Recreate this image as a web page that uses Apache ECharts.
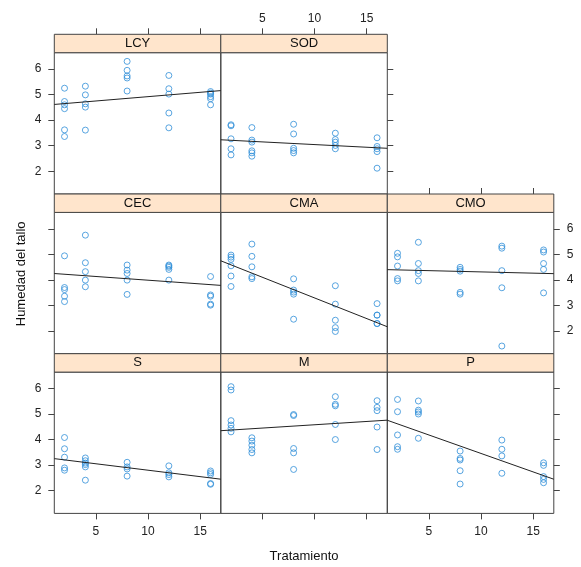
<!DOCTYPE html>
<html><head><meta charset="utf-8">
<script src="https://cdn.jsdelivr.net/npm/echarts@6/dist/echarts.min.js"></script>
<style>html,body{margin:0;padding:0;background:#fff}#c{width:581px;height:567px}</style>
</head><body><div id="c"></div>
<script>
// ---- data ----
const tratamientos = [2, 4, 8, 12, 16];
const panelNames = ['LCY', 'SOD', 'CEC', 'CMA', 'CMO', 'S', 'M', 'P'];
const LCY = [[5.25, 4.73, 4.60, 4.45, 3.62, 3.36], [5.33, 4.99, 4.64, 4.51, 3.61], [6.30, 5.95, 5.73, 5.65, 5.14], [5.75, 5.23, 5.02, 4.28, 3.70], [5.12, 5.06, 5.02, 4.92, 4.84, 4.60]];
const SOD = [[3.82, 3.78, 3.27, 2.88, 2.64], [3.71, 3.22, 3.14, 2.80, 2.72, 2.59], [3.84, 3.46, 2.90, 2.81, 2.72], [3.49, 3.24, 3.14, 3.01, 2.88], [3.31, 2.97, 2.88, 2.77, 2.12]];
const CEC = [[4.94, 3.70, 3.62, 3.36, 3.15], [5.75, 4.67, 4.32, 3.99, 3.73], [4.58, 4.38, 4.25, 3.99, 3.43], [4.58, 4.54, 4.49, 4.41, 3.99], [4.13, 3.41, 3.36, 3.05, 3.01]];
const CMA = [[4.97, 4.89, 4.80, 4.55, 4.15, 3.74], [5.40, 4.92, 4.51, 4.12, 4.05], [4.04, 3.60, 3.52, 3.44, 2.46], [3.77, 3.05, 2.42, 2.13, 1.98], [3.07, 2.62, 2.62, 2.29, 2.29]];
const CMO = [[5.04, 4.90, 4.54, 4.05, 3.96], [5.47, 4.64, 4.36, 4.25, 3.96], [4.49, 4.41, 4.34, 3.51, 3.44], [5.32, 5.24, 4.36, 3.69, 1.41], [5.17, 5.09, 4.64, 4.41, 3.49]];
const S = [[4.08, 3.64, 3.31, 2.89, 2.80], [3.28, 3.17, 3.08, 3.02, 2.93, 2.41], [3.11, 2.93, 2.85, 2.57], [2.97, 2.70, 2.63, 2.54], [2.77, 2.70, 2.63, 2.28, 2.25]];
const M = [[6.07, 5.94, 4.74, 4.57, 4.44, 4.30], [4.07, 3.94, 3.78, 3.61, 3.48], [4.98, 4.94, 3.65, 3.48, 2.83], [5.68, 5.38, 5.32, 4.59, 4.00], [5.52, 5.26, 5.13, 4.49, 3.61]];
const P = [[5.57, 5.09, 4.18, 3.72, 3.62], [5.51, 5.15, 5.08, 5.00, 4.05], [3.55, 3.26, 3.20, 2.78, 2.26], [3.98, 3.62, 3.36, 2.68], [3.09, 2.99, 2.55, 2.44, 2.31]];
const panelValues = [LCY, SOD, CEC, CMA, CMO, S, M, P];
const xTicks = [5, 10, 15];
const yTicks = [2, 3, 4, 5, 6];
const xRange = [1.02, 16.98];
const yRange = [1.11, 6.64];
const xTitle = 'Tratamiento';
const yTitle = 'Humedad del tallo';

// ---- layout ----
const colLeft = [54.3, 220.8, 387.3];
const panelW = 166.5;
const panelTop = [52.7, 212.4, 372.1];
const panelH = 141.3;
const stripH = 18.4;
// row, col, x axis position, x labels, y axis position, y labels
const layout = [
  [0, 0, 'top', false, 'left', true],
  [0, 1, 'top', true, 'right', false],
  [1, 0, null, false, 'left', false],
  [1, 1, null, false, null, false],
  [1, 2, 'top', false, 'right', true],
  [2, 0, 'bottom', true, 'left', true],
  [2, 1, 'bottom', false, null, false],
  [2, 2, 'bottom', true, 'right', false]
];
const axisCol = '#444';
const ptCol = '#2f8fd8';
const font = 'Liberation Sans, Arial, sans-serif';

const grids = [], xAxes = [], yAxes = [], series = [], graphics = [];
panelNames.forEach((name, i) => {
  const [r, c, xPos, xLab, yPos, yLab] = layout[i];
  const left = colLeft[c], top = panelTop[r];
  grids.push({left: left, top: top, width: panelW, height: panelH, show: true,
    borderColor: axisCol, borderWidth: 1, backgroundColor: 'rgba(0,0,0,0)', containLabel: false});
  xAxes.push({gridIndex: i, type: 'value', min: xRange[0], max: xRange[1],
    position: xPos || 'bottom', offset: xPos === 'top' ? stripH : 0,
    axisLine: {show: false}, splitLine: {show: false},
    axisTick: {show: !!xPos, customValues: xTicks, length: 6, inside: false, lineStyle: {color: axisCol}},
    axisLabel: {show: !!xLab, customValues: xTicks, margin: xPos === 'top' ? 10 : 12, color: '#222', fontSize: 12, fontFamily: font}});
  yAxes.push({gridIndex: i, type: 'value', min: yRange[0], max: yRange[1],
    position: yPos || 'left',
    axisLine: {show: false}, splitLine: {show: false},
    axisTick: {show: !!yPos, customValues: yTicks, length: 6, inside: false, lineStyle: {color: axisCol}},
    axisLabel: {show: !!yLab, customValues: yTicks, margin: 13, color: '#222', fontSize: 12, fontFamily: font}});
  const pts = [];
  panelValues[i].forEach((grp, k) => grp.forEach(v => pts.push([tratamientos[k], v])));
  series.push({type: 'scatter', xAxisIndex: i, yAxisIndex: i, data: pts, symbol: 'circle', symbolSize: 6,
    itemStyle: {color: 'rgba(0,0,0,0)', borderColor: ptCol, borderWidth: 1}, silent: true});
  // least-squares line (panel.lmline)
  const n = pts.length;
  const mx = pts.reduce((s, p) => s + p[0], 0) / n;
  const my = pts.reduce((s, p) => s + p[1], 0) / n;
  let sxy = 0, sxx = 0;
  pts.forEach(p => { sxy += (p[0] - mx) * (p[1] - my); sxx += (p[0] - mx) * (p[0] - mx); });
  const b = sxy / sxx, a = my - b * mx;
  series.push({type: 'line', xAxisIndex: i, yAxisIndex: i, showSymbol: false, silent: true, clip: true,
    data: [[xRange[0], a + b * xRange[0]], [xRange[1], a + b * xRange[1]]],
    lineStyle: {color: '#222', width: 1}});
  graphics.push({type: 'rect', shape: {x: left, y: top - stripH, width: panelW, height: stripH},
    style: {fill: '#ffe5cc', stroke: axisCol, lineWidth: 1}, z: 10});
  graphics.push({type: 'text', x: left + panelW / 2, y: top - stripH / 2,
    style: {text: name, fill: '#111', font: '13px ' + font, textAlign: 'center', textVerticalAlign: 'middle'}, z: 11});
});
graphics.push({type: 'text', x: (colLeft[0] + colLeft[2] + panelW) / 2, y: 556,
  style: {text: xTitle, fill: '#111', font: '13px ' + font, textAlign: 'center', textVerticalAlign: 'middle'}});
graphics.push({type: 'text', x: 21, y: (panelTop[0] - stripH + panelTop[2] + panelH) / 2, rotation: Math.PI / 2,
  style: {text: yTitle, fill: '#111', font: '13px ' + font, textAlign: 'center', textVerticalAlign: 'middle'}});

const chart = echarts.init(document.getElementById('c'), null, {renderer: 'canvas'});
chart.setOption({animation: false, backgroundColor: '#fff', grid: grids, xAxis: xAxes, yAxis: yAxes, series: series, graphic: graphics});
</script></body></html>
